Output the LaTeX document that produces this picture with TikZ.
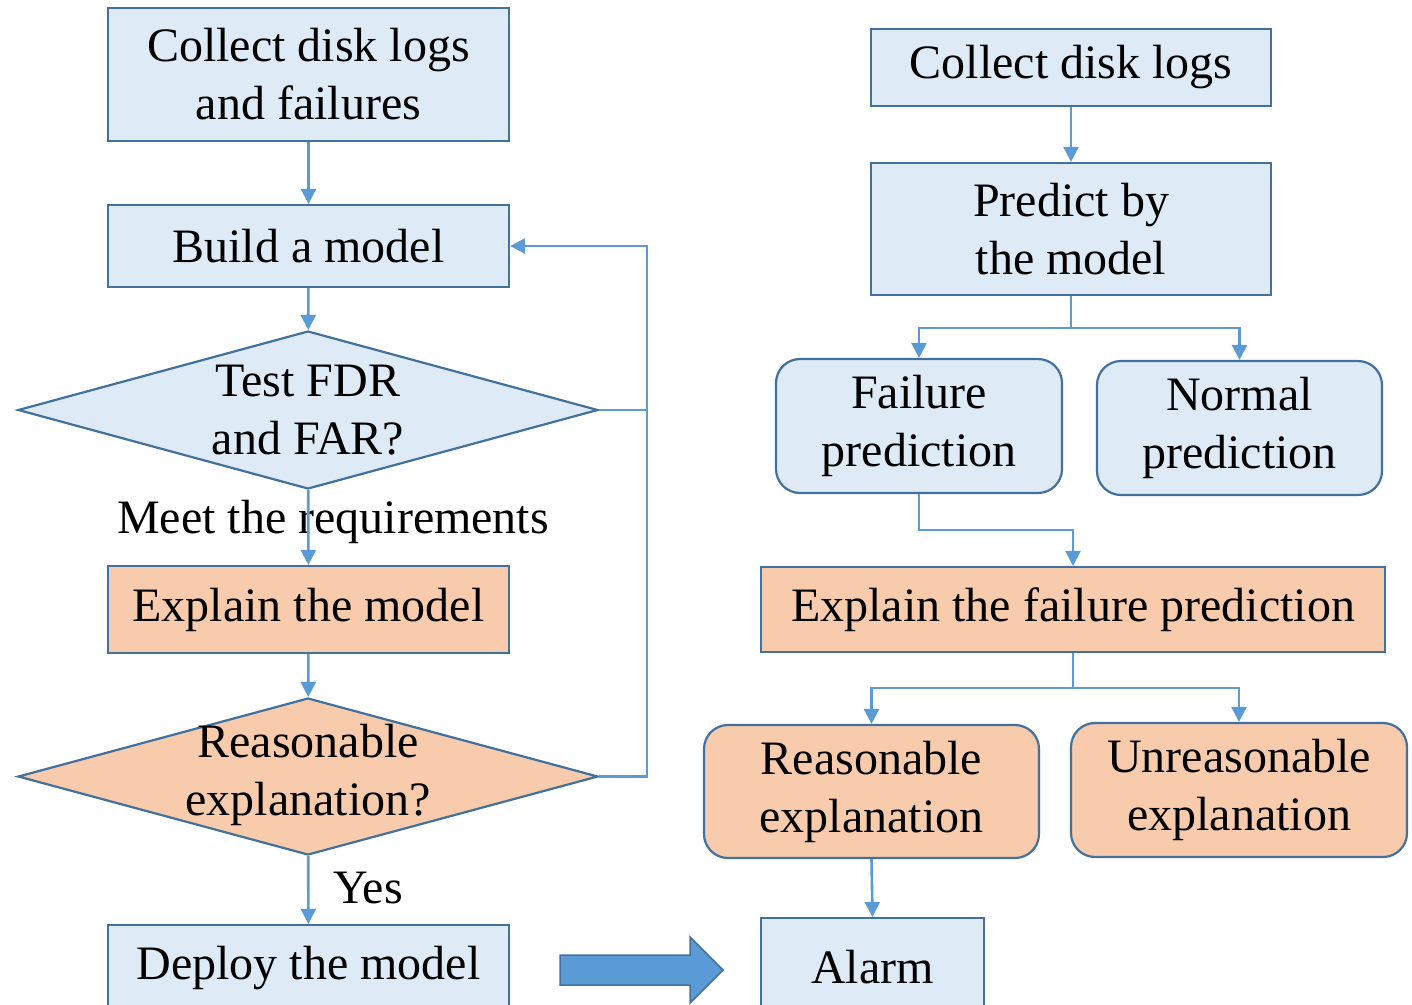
\documentclass[tikz,border=0pt]{standalone}
\usepackage{fontspec}
\setmainfont{Liberation Serif}
\usetikzlibrary{shapes.geometric,arrows.meta}
\definecolor{boxblue}{HTML}{DEEBF7}
\definecolor{boxorange}{HTML}{F8CBAD}
\definecolor{edgeblue}{HTML}{41719C}
\definecolor{linkblue}{HTML}{5B9BD5}

\begin{document}
\begin{tikzpicture}[x=1pt,y=-1pt,
  every node/.style={font=\fontsize{48}{58}\selectfont},
  box/.style={draw=edgeblue, line width=2.2pt, align=center, inner sep=0pt},
  bluebox/.style={box, fill=boxblue},
  orangebox/.style={box, fill=boxorange},
  rnd/.style={rounded corners=24pt},
  decision/.style={diamond, draw=edgeblue, line width=2.2pt,
    inner sep=0pt, minimum width=580pt, minimum height=158pt},
  label/.style={align=center, inner sep=0pt},
  link/.style={draw=linkblue, line width=2.6pt, -{Triangle[length=15pt,width=15pt]}},
  plainlink/.style={draw=linkblue, line width=2.6pt}]

\useasboundingbox (0,0) rectangle (1412,1004);

% ---- training flow (left) ----
\node[bluebox, minimum width=401pt, minimum height=133pt] (c1) at (308.5,74.5)
  {Collect disk logs\\and failures};
\node[bluebox, minimum width=401pt, minimum height=82pt] (b2) at (308.5,246)
  {Build a model};
\node[decision, fill=boxblue] (d1) at (308,410) {};
\node[label] (d1text) at (d1.center) {Test FDR\\and FAR?};
\node[orangebox, minimum width=401pt, minimum height=87pt] (b3) at (308.5,609.5)
  {Explain the model};
\node[decision, fill=boxorange, minimum height=157pt] (d2) at (308,776.5) {};
\node[label] (d2text) at ([yshift=2pt]d2.center) {Reasonable\\explanation?};
\node[bluebox, minimum width=401pt, minimum height=86pt] (b4) at (308.5,968)
  {Deploy the model};

\node (meet) at (333,522) {Meet the requirements};
\node (yes) at (368,888) {Yes};

\draw[link] (c1) -- (b2);
\draw[link] (b2) -- (d1);
\draw[link] (d1) -- (b3);
\draw[link] (b3) -- (d2);
\draw[link] (d2) -- (b4);

% feedback loop back to model building
\coordinate (turn) at (647,776.5);
\draw[plainlink] (d1.east) -- (d1.east -| turn);
\draw[link] (d2.east) -- (turn) |- (b2.east);

% ---- hand-over arrow ----
\draw[fill=linkblue, draw=edgeblue, line width=1.5pt]
  (560,955) -- (690,955) -- (690,937) -- (723,970) -- (690,1003)
  -- (690,985) -- (560,985) -- cycle;

% ---- prediction flow (right) ----
\node[bluebox, minimum width=400pt, minimum height=77pt] (r1) at (1071,67.5)
  {Collect disk logs};
\node[bluebox, minimum width=400pt, minimum height=132pt] (r2) at (1071,229)
  {Predict by\\the model};
\node[bluebox, rnd, minimum width=286pt, minimum height=134pt] (fail) at (919,426)
  {Failure\\prediction};
\node[bluebox, rnd, minimum width=285pt, minimum height=134pt] (norm) at (1239.5,428)
  {Normal\\prediction};
\node[orangebox, minimum width=624pt, minimum height=85pt] (explf) at (1073,609.5)
  {Explain the failure prediction};
\node[orangebox, rnd, minimum width=335pt, minimum height=133pt] (reas) at (871.5,791.5)
  {Reasonable\\explanation};
\node[orangebox, rnd, minimum width=336pt, minimum height=134pt] (unreas) at (1239,790)
  {Unreasonable\\explanation};
\node[bluebox, minimum width=223pt, minimum height=98pt] (alarm) at (872.5,967)
  {Alarm};

\draw[link] (r1) -- (r2);
\coordinate (s1) at (1071,328);
\draw[link] (r2.south) -- (s1) -| (fail.north);
\draw[link] (s1) -| (norm.north);
\coordinate (s2) at (919,530);
\draw[link] (fail.south) -- (s2) -| (explf.north);
\coordinate (s3) at (1073,688);
\draw[link] (explf.south) -- (s3) -| (reas.north);
\draw[link] (s3) -| (unreas.north);
\draw[link] (reas.south) -- (alarm.north);
\end{tikzpicture}
\end{document}
